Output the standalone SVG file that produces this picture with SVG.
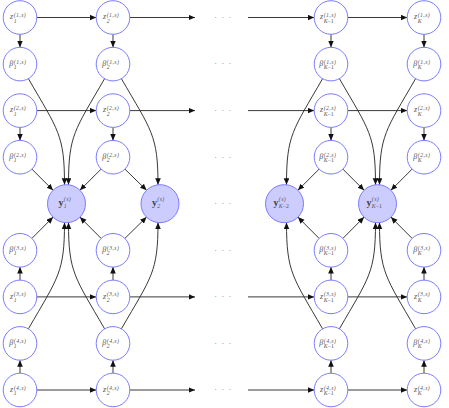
<svg xmlns="http://www.w3.org/2000/svg" width="449" height="408" viewBox="0 0 449 408">
<defs>
<marker id="a" markerWidth="8" markerHeight="7" refX="6.5" refY="2.8" orient="auto" markerUnits="userSpaceOnUse"><path d="M0,0 L6.5,2.8 L0,5.6 z" fill="#111"/></marker>
</defs>
<style>
.n{fill:#fff;stroke:#7b7bff;stroke-width:1}
.y{fill:#ccccff;stroke:#7b7bff;stroke-width:1}
.m{font-family:"Liberation Serif",serif;font-style:italic;font-size:8px;fill:#555}
.s{font-family:"Liberation Serif",serif;font-style:italic;font-size:5.8px;fill:#555}
.p{letter-spacing:0.4px}
.b{font-family:"Liberation Serif",serif;font-weight:bold;font-size:10px;fill:#444}
.u{font-style:normal}
.e{fill:none;stroke:#222;stroke-width:0.9;marker-end:url(#a)}
.d{font-family:"Liberation Serif",serif;font-size:8px;fill:#777;letter-spacing:4.5px}
</style>
<rect width="449" height="408" fill="#fff"/>
<g id="connectors">
<path class="e" d="M36.8,17.5H96.2"/><path class="e" d="M129.8,17.5H195"/><path class="e" d="M248,17.5H314.2"/><path class="e" d="M347.8,17.5H407.2"/>
<path class="e" d="M36.8,110.6H96.2"/><path class="e" d="M129.8,110.6H195"/><path class="e" d="M248,110.6H314.2"/><path class="e" d="M347.8,110.6H407.2"/>
<path class="e" d="M36.8,296.9H96.2"/><path class="e" d="M129.8,296.9H195"/><path class="e" d="M248,296.9H314.2"/><path class="e" d="M347.8,296.9H407.2"/>
<path class="e" d="M36.8,390H96.2"/><path class="e" d="M129.8,390H195"/><path class="e" d="M248,390H314.2"/><path class="e" d="M347.8,390H407.2"/>
<path class="e" d="M20,34.3V47.3"/><path class="e" d="M113,34.3V47.3"/><path class="e" d="M331,34.3V47.3"/><path class="e" d="M424,34.3V47.3"/>
<path class="e" d="M20,127.4V140.4"/><path class="e" d="M113,127.4V140.4"/><path class="e" d="M331,127.4V140.4"/><path class="e" d="M424,127.4V140.4"/>
<path class="e" d="M20,280.1V267.1"/><path class="e" d="M113,280.1V267.1"/><path class="e" d="M331,280.1V267.1"/><path class="e" d="M424,280.1V267.1"/>
<path class="e" d="M20,373.2V360.2"/><path class="e" d="M113,373.2V360.2"/><path class="e" d="M331,373.2V360.2"/><path class="e" d="M424,373.2V360.2"/>
<path class="e" d="M31.9,169.1L53.1,190.3"/><path class="e" d="M101.1,169.1L79.9,190.3"/><path class="e" d="M124.9,169.1L146.6,190.3"/>
<path class="e" d="M31.9,238.4L53.1,217.1"/><path class="e" d="M101.1,238.4L79.9,217.1"/><path class="e" d="M124.9,238.4L146.6,217.1"/>
<path class="e" d="M319.1,169.1L297.9,190.3"/><path class="e" d="M342.9,169.1L364.1,190.3"/><path class="e" d="M412.1,169.1L390.9,190.3"/>
<path class="e" d="M319.1,238.4L297.9,217.1"/><path class="e" d="M342.9,238.4L364.1,217.1"/><path class="e" d="M412.1,238.4L390.9,217.1"/>
<path class="e" d="M28.4,78.65C58.4,130.65 64.5,135 64.5,184.8"/>
<path class="e" d="M104.6,78.65C74.6,130.65 68.5,135 68.5,184.8"/>
<path class="e" d="M121.4,78.65C151.4,130.65 158,135 158,184.8"/>
<path class="e" d="M322.6,78.65C292.6,130.65 286.5,135 286.5,184.8"/>
<path class="e" d="M339.4,78.65C369.4,130.65 375.5,135 375.5,184.8"/>
<path class="e" d="M415.6,78.65C385.6,130.65 379.5,135 379.5,184.8"/>
<path class="e" d="M28.4,328.85C58.4,276.85 64.5,272.4 64.5,222.6"/>
<path class="e" d="M104.6,328.85C74.6,276.85 68.5,272.4 68.5,222.6"/>
<path class="e" d="M121.4,328.85C151.4,276.85 158,272.4 158,222.6"/>
<path class="e" d="M322.6,328.85C292.6,276.85 286.5,272.4 286.5,222.6"/>
<path class="e" d="M339.4,328.85C369.4,276.85 375.5,272.4 375.5,222.6"/>
<path class="e" d="M415.6,328.85C385.6,276.85 379.5,272.4 379.5,222.6"/>
</g>
<g id="dots">
<text class="d" x="225" y="19.8" text-anchor="middle">···</text>
<text class="d" x="225" y="66.4" text-anchor="middle">···</text>
<text class="d" x="225" y="112.9" text-anchor="middle">···</text>
<text class="d" x="225" y="159.5" text-anchor="middle">···</text>
<text class="d" x="225" y="206" text-anchor="middle">···</text>
<text class="d" x="225" y="252.6" text-anchor="middle">···</text>
<text class="d" x="225" y="299.2" text-anchor="middle">···</text>
<text class="d" x="225" y="345.7" text-anchor="middle">···</text>
<text class="d" x="225" y="392.3" text-anchor="middle">···</text>
</g>
<!-- column 1 -->
<g id="z1_1"><circle class="n" cx="20" cy="17.5" r="16.8"/><text class="m" x="10" y="19.3">z</text><text class="s p" x="13.7" y="17">(1,s)</text><text class="s" x="13.7" y="22.5">1</text></g>
<g id="b1_1"><circle class="n" cx="20" cy="64.1" r="16.8"/><text class="m" x="9.2" y="65.9">β</text><text class="s p" x="13.8" y="63.6">(1,s)</text><text class="s" x="13.8" y="69.1">1</text></g>
<g id="z1_2"><circle class="n" cx="20" cy="110.6" r="16.8"/><text class="m" x="10" y="112.4">z</text><text class="s p" x="13.7" y="110.1">(2,s)</text><text class="s" x="13.7" y="115.6">1</text></g>
<g id="b1_2"><circle class="n" cx="20" cy="157.2" r="16.8"/><text class="m" x="9.2" y="159">β</text><text class="s p" x="13.8" y="156.7">(2,s)</text><text class="s" x="13.8" y="162.2">1</text></g>
<g id="b1_3"><circle class="n" cx="20" cy="250.3" r="16.8"/><text class="m" x="9.2" y="252.1">β</text><text class="s p" x="13.8" y="249.8">(3,s)</text><text class="s" x="13.8" y="255.3">1</text></g>
<g id="z1_3"><circle class="n" cx="20" cy="296.9" r="16.8"/><text class="m" x="10" y="298.7">z</text><text class="s p" x="13.7" y="296.4">(3,s)</text><text class="s" x="13.7" y="301.9">1</text></g>
<g id="b1_4"><circle class="n" cx="20" cy="343.4" r="16.8"/><text class="m" x="9.2" y="345.2">β</text><text class="s p" x="13.8" y="342.9">(4,s)</text><text class="s" x="13.8" y="348.4">1</text></g>
<g id="z1_4"><circle class="n" cx="20" cy="390" r="16.8"/><text class="m" x="10" y="391.8">z</text><text class="s p" x="13.7" y="389.5">(4,s)</text><text class="s" x="13.7" y="395">1</text></g>
<!-- column 2 -->
<g id="z2_1"><circle class="n" cx="113" cy="17.5" r="16.8"/><text class="m" x="103" y="19.3">z</text><text class="s p" x="106.7" y="17">(1,s)</text><text class="s" x="106.7" y="22.5">2</text></g>
<g id="b2_1"><circle class="n" cx="113" cy="64.1" r="16.8"/><text class="m" x="102.2" y="65.9">β</text><text class="s p" x="106.8" y="63.6">(1,s)</text><text class="s" x="106.8" y="69.1">2</text></g>
<g id="z2_2"><circle class="n" cx="113" cy="110.6" r="16.8"/><text class="m" x="103" y="112.4">z</text><text class="s p" x="106.7" y="110.1">(2,s)</text><text class="s" x="106.7" y="115.6">2</text></g>
<g id="b2_2"><circle class="n" cx="113" cy="157.2" r="16.8"/><text class="m" x="102.2" y="159">β</text><text class="s p" x="106.8" y="156.7">(2,s)</text><text class="s" x="106.8" y="162.2">2</text></g>
<g id="b2_3"><circle class="n" cx="113" cy="250.3" r="16.8"/><text class="m" x="102.2" y="252.1">β</text><text class="s p" x="106.8" y="249.8">(3,s)</text><text class="s" x="106.8" y="255.3">2</text></g>
<g id="z2_3"><circle class="n" cx="113" cy="296.9" r="16.8"/><text class="m" x="103" y="298.7">z</text><text class="s p" x="106.7" y="296.4">(3,s)</text><text class="s" x="106.7" y="301.9">2</text></g>
<g id="b2_4"><circle class="n" cx="113" cy="343.4" r="16.8"/><text class="m" x="102.2" y="345.2">β</text><text class="s p" x="106.8" y="342.9">(4,s)</text><text class="s" x="106.8" y="348.4">2</text></g>
<g id="z2_4"><circle class="n" cx="113" cy="390" r="16.8"/><text class="m" x="103" y="391.8">z</text><text class="s p" x="106.7" y="389.5">(4,s)</text><text class="s" x="106.7" y="395">2</text></g>
<!-- column K-1 -->
<g id="zK1_1"><circle class="n" cx="331" cy="17.5" r="16.8"/><text class="m" x="320" y="19.3">z</text><text class="s p" x="323.7" y="17">(1,s)</text><text class="s" x="323.7" y="22.5">K<tspan class="u">−1</tspan></text></g>
<g id="bK1_1"><circle class="n" cx="331" cy="64.1" r="16.8"/><text class="m" x="319.2" y="65.9">β</text><text class="s p" x="323.8" y="63.6">(1,s)</text><text class="s" x="323.8" y="69.1">K<tspan class="u">−1</tspan></text></g>
<g id="zK1_2"><circle class="n" cx="331" cy="110.6" r="16.8"/><text class="m" x="320" y="112.4">z</text><text class="s p" x="323.7" y="110.1">(2,s)</text><text class="s" x="323.7" y="115.6">K<tspan class="u">−1</tspan></text></g>
<g id="bK1_2"><circle class="n" cx="331" cy="157.2" r="16.8"/><text class="m" x="319.2" y="159">β</text><text class="s p" x="323.8" y="156.7">(2,s)</text><text class="s" x="323.8" y="162.2">K<tspan class="u">−1</tspan></text></g>
<g id="bK1_3"><circle class="n" cx="331" cy="250.3" r="16.8"/><text class="m" x="319.2" y="252.1">β</text><text class="s p" x="323.8" y="249.8">(3,s)</text><text class="s" x="323.8" y="255.3">K<tspan class="u">−1</tspan></text></g>
<g id="zK1_3"><circle class="n" cx="331" cy="296.9" r="16.8"/><text class="m" x="320" y="298.7">z</text><text class="s p" x="323.7" y="296.4">(3,s)</text><text class="s" x="323.7" y="301.9">K<tspan class="u">−1</tspan></text></g>
<g id="bK1_4"><circle class="n" cx="331" cy="343.4" r="16.8"/><text class="m" x="319.2" y="345.2">β</text><text class="s p" x="323.8" y="342.9">(4,s)</text><text class="s" x="323.8" y="348.4">K<tspan class="u">−1</tspan></text></g>
<g id="zK1_4"><circle class="n" cx="331" cy="390" r="16.8"/><text class="m" x="320" y="391.8">z</text><text class="s p" x="323.7" y="389.5">(4,s)</text><text class="s" x="323.7" y="395">K<tspan class="u">−1</tspan></text></g>
<!-- column K -->
<g id="zK_1"><circle class="n" cx="424" cy="17.5" r="16.8"/><text class="m" x="414" y="19.3">z</text><text class="s p" x="417.7" y="17">(1,s)</text><text class="s" x="417.7" y="22.5">K</text></g>
<g id="bK_1"><circle class="n" cx="424" cy="64.1" r="16.8"/><text class="m" x="413.2" y="65.9">β</text><text class="s p" x="417.8" y="63.6">(1,s)</text><text class="s" x="417.8" y="69.1">K</text></g>
<g id="zK_2"><circle class="n" cx="424" cy="110.6" r="16.8"/><text class="m" x="414" y="112.4">z</text><text class="s p" x="417.7" y="110.1">(2,s)</text><text class="s" x="417.7" y="115.6">K</text></g>
<g id="bK_2"><circle class="n" cx="424" cy="157.2" r="16.8"/><text class="m" x="413.2" y="159">β</text><text class="s p" x="417.8" y="156.7">(2,s)</text><text class="s" x="417.8" y="162.2">K</text></g>
<g id="bK_3"><circle class="n" cx="424" cy="250.3" r="16.8"/><text class="m" x="413.2" y="252.1">β</text><text class="s p" x="417.8" y="249.8">(3,s)</text><text class="s" x="417.8" y="255.3">K</text></g>
<g id="zK_3"><circle class="n" cx="424" cy="296.9" r="16.8"/><text class="m" x="414" y="298.7">z</text><text class="s p" x="417.7" y="296.4">(3,s)</text><text class="s" x="417.7" y="301.9">K</text></g>
<g id="bK_4"><circle class="n" cx="424" cy="343.4" r="16.8"/><text class="m" x="413.2" y="345.2">β</text><text class="s p" x="417.8" y="342.9">(4,s)</text><text class="s" x="417.8" y="348.4">K</text></g>
<g id="zK_4"><circle class="n" cx="424" cy="390" r="16.8"/><text class="m" x="414" y="391.8">z</text><text class="s p" x="417.7" y="389.5">(4,s)</text><text class="s" x="417.7" y="395">K</text></g>
<!-- observations -->
<g id="y1"><circle class="y" cx="66.5" cy="203.7" r="19"/><text class="b" x="58.5" y="205.8">y</text><text class="s p" x="63.8" y="201.2">(s)</text><text class="s" x="63.8" y="208.2">1</text></g>
<g id="y2"><circle class="y" cx="160" cy="203.7" r="19"/><text class="b" x="152" y="205.8">y</text><text class="s p" x="157.3" y="201.2">(s)</text><text class="s" x="157.3" y="208.2">2</text></g>
<g id="yK2"><circle class="y" cx="284.5" cy="203.7" r="19"/><text class="b" x="273.5" y="205.8">y</text><text class="s p" x="278.8" y="201.2">(s)</text><text class="s" x="278.8" y="208.2">K<tspan class="u">−2</tspan></text></g>
<g id="yK1"><circle class="y" cx="377.5" cy="203.7" r="19"/><text class="b" x="366.5" y="205.8">y</text><text class="s p" x="371.8" y="201.2">(s)</text><text class="s" x="371.8" y="208.2">K<tspan class="u">−1</tspan></text></g>
</svg>
